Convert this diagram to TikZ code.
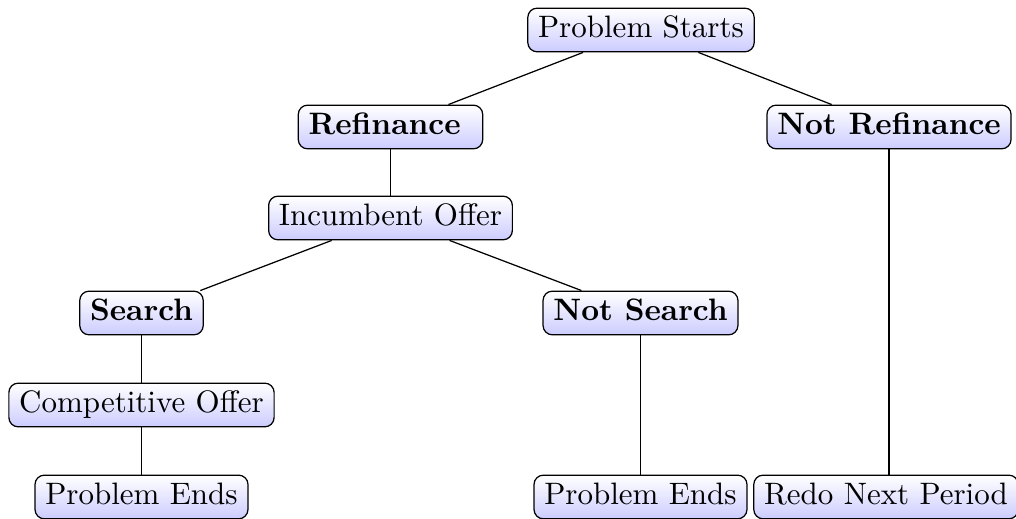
\documentclass[tikz,border=0pt]{standalone}
\usetikzlibrary{shapes.misc}
\begin{document}
\begin{tikzpicture}[x=0.3226pt,y=-0.3226pt,
  box/.style={draw=black, rounded corners=3pt, top color=white, bottom color=blue!20,
    text height=6.94pt, text depth=1.94pt, inner xsep=3.33pt, inner ysep=2.6pt, line width=0.4pt},
  edge/.style={draw=black, line width=0.4pt}]
\useasboundingbox (0,0) rectangle (1016,519);
\node[box] (ps)  at (641,30)  {Problem Starts};
\node[box] (ref) at (390.5,127) {\textbf{Refinance}\kern3.8pt};
\node[box] (nref) at (889,127) {\textbf{Not Refinance}};
\node[box] (inc) at (390.5,218) {Incumbent Offer};
\node[box] (sea) at (141.5,313) {\textbf{Search}};
\node[box] (nsea) at (640.5,313) {\textbf{Not Search}};
\node[box] (comp) at (141.5,405) {Competitive Offer};
\node[box] (pe1) at (141.5,497) {Problem Ends};
\node[box] (pe2) at (640.5,497) {Problem Ends};
\node[box] (redo) at (886,497) {Redo Next Period};
\draw[edge] (ps) -- (ref);
\draw[edge] (ps) -- (nref);
\draw[edge] (ref) -- (inc);
\draw[edge] (inc) -- (sea);
\draw[edge] (inc) -- (nsea);
\draw[edge] (sea) -- (comp);
\draw[edge] (comp) -- (pe1);
\draw[edge] (nsea) -- (pe2);
\draw[edge] (nref.south) -- (nref.south |- redo.north);
\end{tikzpicture}
\end{document}
